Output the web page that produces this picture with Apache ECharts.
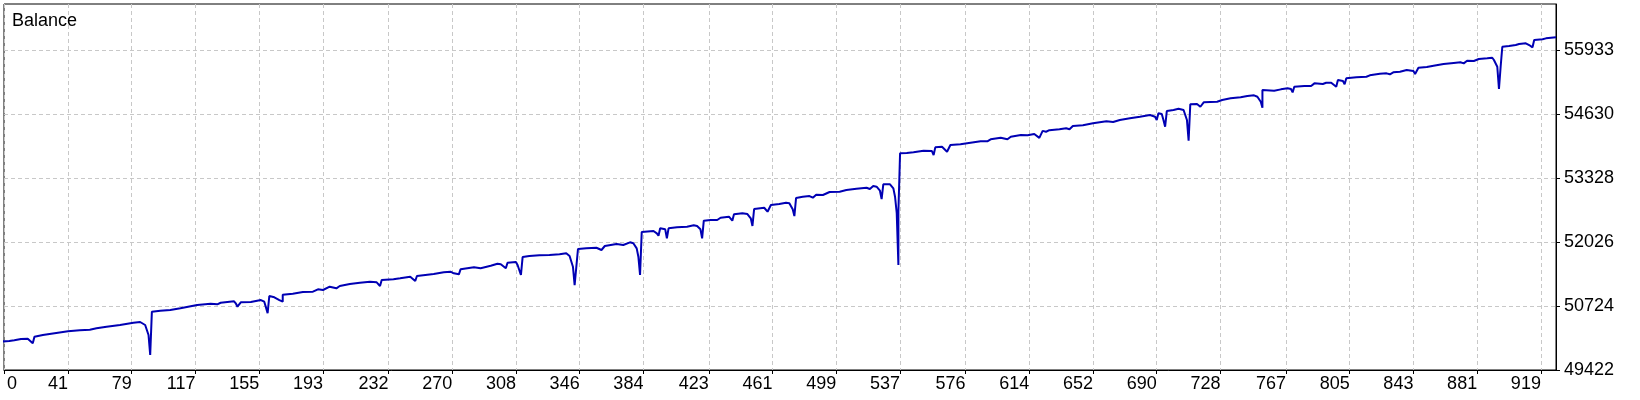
<!DOCTYPE html>
<html>
<head>
<meta charset="utf-8">
<script src="https://cdn.jsdelivr.net/npm/echarts@6/dist/echarts.min.js"></script>
<style>
html,body{margin:0;padding:0;background:#fff;}
#chart{width:1640px;height:400px;}
</style>
</head>
<body>
<div id="chart"></div>
<script>
// Trade numbers (x) and balance values (y)
const trades = [0,6,9,13,17,20,21,26,34,41,48,54,58,64,72,80,84,87,88,89,90,91,96,102,108,118,126,130,132,140,141,142,144,150,156,158,160,161,164,167,169,169,175,181,187,190,193,197,201,203,209,215,221,225,227,228,235,239,245,248,249,259,265,269,271,274,275,283,287,293,297,299,302,303,308,309,311,312,316,322,328,334,338,340,342,343,345,350,356,359,360,361,368,372,376,378,380,381,382,383,390,392,393,394,397,398,399,404,410,414,416,418,419,420,424,428,430,435,437,438,443,446,448,449,450,456,458,460,465,469,471,473,474,475,479,483,485,487,491,495,501,505,511,517,519,521,523,525,526,527,531,533,534,535,536,536,537,541,545,551,556,557,558,562,565,567,573,577,585,589,591,597,601,603,609,613,617,620,622,624,626,632,636,638,640,646,652,660,664,668,674,680,686,689,690,691,693,694,695,696,700,703,706,708,709,710,714,716,717,718,726,729,734,740,744,748,750,752,753,753,760,764,768,770,771,772,778,782,784,789,791,794,797,798,801,802,803,809,815,817,823,827,829,831,835,839,843,844,846,851,855,861,867,871,873,875,879,882,887,890,891,893,894,895,896,900,904,906,910,912,914,915,920,922,928];
const balance = [50000,50012,50026,50053,50059,49965,50100,50134,50175,50209,50230,50242,50270,50303,50338,50384,50399,50338,50236,50134,49727,50608,50629,50643,50677,50745,50771,50759,50791,50820,50779,50710,50799,50806,50846,50812,50580,50928,50901,50846,50812,50954,50975,51009,51015,51064,51050,51117,51084,51131,51172,51198,51219,51206,51131,51253,51267,51288,51320,51233,51335,51375,51410,51422,51390,51369,51471,51512,51491,51544,51585,51573,51491,51605,51619,51558,51355,51720,51742,51756,51762,51776,51797,51742,51524,51151,51884,51898,51910,51864,51829,51945,51986,51965,52020,52000,51898,51727,51355,52230,52250,52203,52155,52305,52285,52102,52305,52326,52338,52366,52352,52285,52102,52460,52474,52474,52521,52541,52460,52590,52610,52596,52509,52352,52698,52724,52643,52779,52800,52826,52814,52692,52555,52922,52948,52962,52928,52989,52983,53044,53050,53084,53111,53131,53105,53166,53152,53070,52901,53200,53200,53119,52948,52620,51558,52650,53831,53837,53852,53884,53878,53797,53953,53965,53864,54000,54014,54035,54075,54075,54116,54149,54116,54169,54204,54197,54224,54146,54288,54271,54302,54320,54340,54320,54387,54401,54442,54482,54468,54509,54543,54576,54610,54576,54509,54645,54631,54509,54372,54692,54712,54739,54712,54509,54088,54828,54834,54779,54739,54869,54881,54916,54950,54971,54997,55011,54983,54881,54759,55119,55105,55133,55154,55140,55072,55186,55201,55201,55255,55241,55268,55268,55186,55323,55302,55235,55357,55378,55390,55418,55451,55459,55439,55479,55492,55526,55506,55445,55573,55587,55614,55648,55669,55683,55662,55715,55709,55750,55764,55776,55730,55593,55140,55593,56000,56014,56035,56055,56069,56035,55988,56137,56151,56171,56191];
const xTickLabels = [41,79,117,155,193,232,270,308,346,384,423,461,499,537,576,614,652,690,728,767,805,843,881,919];
const yTickLabels = [49422,50724,52026,53328,54630,55933];
const seriesName = 'Balance';

const xMin = 2.85, xMax = 928;
const yMin = 49422, yMax = 56870;
const FONT = '"Liberation Sans", Arial, sans-serif';
const FS = 18;

const chart = echarts.init(document.getElementById('chart'), null, {renderer: 'canvas'});
const points = trades.map((t, i) => [t, balance[i]]);
chart.setOption({
  animation: false,
  backgroundColor: '#ffffff',
  title: {
    text: seriesName, left: 12, top: 12, padding: 0,
    textStyle: {fontFamily: FONT, fontSize: FS, fontWeight: 'normal', color: '#000'}
  },
  grid: {left: 4, top: 4, right: 84, bottom: 30, show: true, borderColor: '#000', borderWidth: 1, backgroundColor: 'transparent'},
  xAxis: {
    type: 'value', min: xMin, max: xMax,
    axisLine: {show: true, onZero: false, lineStyle: {color: '#000', width: 1}},
    axisTick: {show: true, length: 4, customValues: [xMin].concat(xTickLabels), lineStyle: {color: '#000'}},
    axisLabel: {
      customValues: [xMin].concat(xTickLabels),
      align: 'right', alignMinLabel: 'left', margin: 5,
      fontFamily: FONT, fontSize: FS, color: '#000',
      formatter: v => (v === xMin ? '{f|0}' : String(v)),
      rich: {f: {fontFamily: FONT, fontSize: FS, color: '#000', padding: [0, 0, 0, 3]}}
    },
    splitLine: {show: true, lineStyle: {color: '#c8c8c8', width: 1, type: [4, 3]}}
  },
  yAxis: {
    type: 'value', position: 'right', min: yMin, max: yMax,
    axisLine: {show: true, onZero: false, lineStyle: {color: '#000', width: 1}},
    axisTick: {show: true, length: 4, customValues: yTickLabels, lineStyle: {color: '#000'}},
    axisLabel: {
      customValues: yTickLabels, margin: 8,
      fontFamily: FONT, fontSize: FS, color: '#000',
      formatter: v => String(v)
    },
    splitLine: {show: true, lineStyle: {color: '#c8c8c8', width: 1, type: [4, 3]}}
  },
  series: [{
    name: seriesName, type: 'line', data: points, showSymbol: false, symbol: 'none',
    lineStyle: {color: '#0000b4', width: 2}, clip: true
  }]
});
</script>
</body>
</html>
